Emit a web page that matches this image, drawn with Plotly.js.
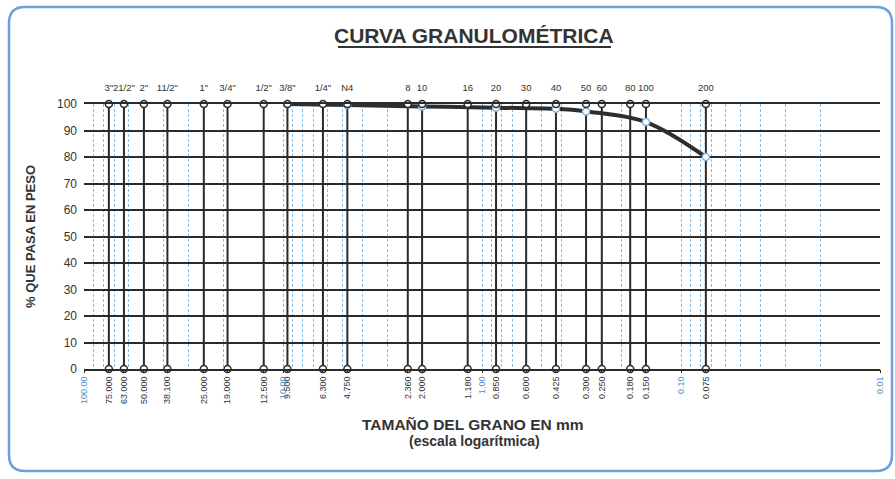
<!DOCTYPE html>
<html><head><meta charset="utf-8">
<script src="https://cdn.plot.ly/plotly-3.0.1.min.js"></script>
<style>html,body{margin:0;padding:0;background:#fff}#chart{width:895px;height:479px}</style>
</head><body><div id="chart"></div>
<script>
// Sieve data
const sieveNames = ['3"','21/2"','2"','11/2"','1"','3/4"','1/2"','3/8"','1/4"','N4','8','10','16','20','30','40','50','60','80','100','200'];
const sieveSizes = [75,63,50,38.1,25,19,12.5,9.5,6.3,4.75,2.36,2.0,1.18,0.85,0.6,0.425,0.3,0.25,0.18,0.15,0.075];
const sieveLabels = ['75.000','63.000','50.000','38.100','25.000','19.000','12.500','9.500','6.300','4.750','2.360','2.000','1.180','0.850','0.600','0.425','0.300','0.250','0.180','0.150','0.075'];
const decadeVals = [100,10,1,0.1,0.01];
const decadeLabels = ['100.00','10.00','1.00','0.10','0.01'];
// Gradation curve
const curveSizes = [9.5,4.75,2.0,0.85,0.425,0.3,0.15,0.075];
const curvePassing = [100,99.6,99.1,98.6,98.2,97.2,93.2,80.0];

const W=895,H=479,L=84,R=15,T=104,B=110;
const pw=W-L-R, ph=H-T-B;
const px=x=>(x-L)/pw, py=y=>(H-B-y)/ph;

const lx=[],ly=[],mx=[],my=[];
sieveSizes.forEach(s=>{lx.push(s,s,null);ly.push(0,100,null);mx.push(s,s);my.push(0,100);});

const traces=[
 {x:lx,y:ly,mode:'lines',line:{color:'#2a2a2a',width:2},hoverinfo:'skip',showlegend:false},
 {x:curveSizes,y:curvePassing,mode:'lines+markers',line:{color:'#2e2e2e',width:4,shape:'spline'},
  marker:{symbol:'circle',size:7,color:'#ffffff',line:{color:'#7fb6e0',width:1.5}},showlegend:false},
 {x:mx,y:my,mode:'markers',marker:{symbol:'circle',size:7,color:'#ffffff',line:{color:'#2a2a2a',width:1.5}},
  cliponaxis:false,hoverinfo:'skip',showlegend:false}
];

const botText=sieveLabels.map(t=>t).concat(decadeLabels.map(t=>'<span style="color:#4a90d0">'+t+'</span>'));
const botVals=sieveSizes.concat(decadeVals);

// rounded border
function rr(x0,y0,x1,y1,r){
  const X=v=>px(v),Y=v=>py(v);
  return `M${X(x0+r)},${Y(y0)} L${X(x1-r)},${Y(y0)} Q${X(x1)},${Y(y0)} ${X(x1)},${Y(y0+r)} L${X(x1)},${Y(y1-r)} Q${X(x1)},${Y(y1)} ${X(x1-r)},${Y(y1)} L${X(x0+r)},${Y(y1)} Q${X(x0)},${Y(y1)} ${X(x0)},${Y(y1-r)} L${X(x0)},${Y(y0+r)} Q${X(x0)},${Y(y0)} ${X(x0+r)},${Y(y0)} Z`;
}

const layout={
 width:W,height:H,margin:{l:L,r:R,t:T,b:B},
 paper_bgcolor:'#ffffff',plot_bgcolor:'#ffffff',
 font:{family:'Liberation Sans, Arial, sans-serif',color:'#333'},
 xaxis:{type:'log',range:[2,-2],dtick:'D1',showticklabels:false,ticks:'',
   showgrid:true,gridcolor:'#86bde6',griddash:'3px,2px',gridwidth:1,zeroline:false,
   showline:true,linecolor:'#2a2a2a',linewidth:2,mirror:true},
 xaxis2:{type:'log',range:[2,-2],overlaying:'x',side:'bottom',anchor:'y',tickmode:'array',
   tickvals:botVals,ticktext:botText,tickangle:-90,tickfont:{size:9,color:'#333'},
   showgrid:false,ticks:'outside',ticklen:3,tickcolor:'#2a2a2a',zeroline:false,showline:false},
 xaxis3:{type:'log',range:[2,-2],overlaying:'x',side:'top',anchor:'y',tickmode:'array',
   tickvals:sieveSizes,ticktext:sieveNames,tickangle:0,tickfont:{size:9.5,color:'#333'},
   showgrid:false,ticks:'',ticklabelstandoff:10,zeroline:false,showline:false},
 yaxis:{range:[0,100],dtick:10,showgrid:true,gridcolor:'#2a2a2a',gridwidth:2,zeroline:false,
   tickfont:{size:12,color:'#333'},ticks:'',ticklabelstandoff:6,
   title:{text:'<b>% QUE PASA EN PESO</b>',font:{size:13,color:'#333'},standoff:18}},
 annotations:[
  {text:'<b>CURVA GRANULOMÉTRICA</b>',xref:'paper',yref:'paper',x:px(474),y:py(35),yanchor:'middle',xanchor:'center',showarrow:false,font:{size:21,color:'#333',weight:'bold'}},
  {text:'<b>TAMAÑO DEL GRANO EN mm</b>',xref:'paper',yref:'paper',x:px(473),y:py(424),yanchor:'middle',xanchor:'center',showarrow:false,font:{size:15.5,color:'#333',weight:'bold'}},
  {text:'<b>(escala logarítmica)</b>',xref:'paper',yref:'paper',x:px(474),y:py(441),yanchor:'middle',xanchor:'center',showarrow:false,font:{size:14,color:'#333',weight:'bold'}}
 ],
 shapes:[
  {type:'line',xref:'paper',yref:'paper',x0:px(338),x1:px(611),y0:py(47),y1:py(47),line:{color:'#333',width:2}},
  {type:'path',xref:'paper',yref:'paper',path:rr(9,7,892,471,16),line:{color:'#6e9ee0',width:2.5},layer:'above'}
 ]
};
// dummy traces to activate overlay axes
traces.push({x:[1],y:[50],xaxis:'x2',mode:'markers',marker:{opacity:0},hoverinfo:'skip',showlegend:false});
traces.push({x:[1],y:[50],xaxis:'x3',mode:'markers',marker:{opacity:0},hoverinfo:'skip',showlegend:false});
Plotly.newPlot('chart',traces,layout,{displayModeBar:false,staticPlot:true});
</script></body></html>
